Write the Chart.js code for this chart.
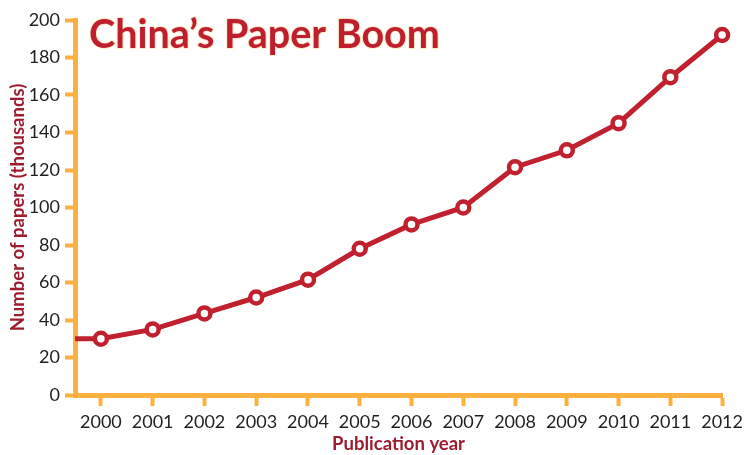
<!DOCTYPE html>
<html>
<head>
<meta charset="utf-8">
<script src="https://cdn.jsdelivr.net/npm/chart.js@4"></script>
<style>
  html, body { margin: 0; padding: 0; background: #ffffff; }
  #wrap { width: 748px; height: 455px; position: relative; }
</style>
</head>
<body>
<div id="wrap"><canvas id="paperChart"></canvas></div>
<script>
// Datos
var years = [2000, 2001, 2002, 2003, 2004, 2005, 2006, 2007, 2008, 2009, 2010, 2011, 2012];
var papers = [30, 35, 43.5, 52, 61.5, 78, 91, 100, 121.5, 130.5, 145, 169.5, 192];
var yTicks = [0, 20, 40, 60, 80, 100, 120, 140, 160, 180, 200];
var chartTitle = 'China\u2019s Paper Boom';
var xTitle = 'Publication year';
var yTitle = 'Number of papers (thousands)';

var xMin = 1999.5;
var orange = '#FBB040';
var red = '#C1202F';
var darkRed = '#9D1D2F';
var textColor = '#231F20';

// La linea empieza en el eje Y con el primer valor
var points = [{ x: xMin, y: papers[0] }];
years.forEach(function(year, i) {
  points.push({ x: year, y: papers[i] });
});

// Titulo dentro del area del grafico
var titlePlugin = {
  id: 'bigTitle',
  afterDraw: function(chart) {
    var ctx = chart.ctx;
    ctx.save();
    ctx.font = 'bold 39.5px Lato';
    ctx.textBaseline = 'alphabetic';
    ctx.textAlign = 'left';
    ctx.lineJoin = 'round';
    ctx.lineWidth = 2;
    ctx.strokeStyle = '#FDEBC8';
    ctx.strokeText(chartTitle, chart.chartArea.left + 14, 48);
    ctx.fillStyle = '#BF1E2E';
    ctx.fillText(chartTitle, chart.chartArea.left + 14, 48);
    ctx.restore();
  }
};

var ctx = document.getElementById('paperChart').getContext('2d');
var paperChart = new Chart(ctx, {
  type: 'line',
  data: {
    datasets: [{
      data: points,
      borderColor: red,
      borderWidth: 5,
      backgroundColor: '#ffffff',
      pointBackgroundColor: '#ffffff',
      pointBorderColor: red,
      pointBorderWidth: 4.5,
      pointRadius: function(c) { return c.dataIndex === 0 ? 0 : 6; },
      pointHoverRadius: function(c) { return c.dataIndex === 0 ? 0 : 6; },
      tension: 0,
      clip: false
    }]
  },
  options: {
    responsive: true,
    maintainAspectRatio: false,
    animation: false,
    devicePixelRatio: 1,
    layout: { padding: { top: 20, right: 23, bottom: 0, left: 0 } },
    plugins: {
      legend: { display: false },
      tooltip: { enabled: false }
    },
    scales: {
      x: {
        type: 'linear',
        min: xMin,
        max: years[years.length - 1],
        afterBuildTicks: function(axis) {
          axis.ticks = years.map(function(v) { return { value: v }; });
        },
        afterFit: function(axis) { axis.height = 60; },
        border: { color: orange, width: 5 },
        grid: {
          drawOnChartArea: false,
          drawTicks: true,
          tickLength: 11,
          tickColor: orange,
          tickWidth: 4
        },
        ticks: {
          color: textColor,
          font: { family: 'Lato', size: 18 },
          padding: 5,
          maxRotation: 0,
          callback: function(v) { return String(v); }
        },
        title: {
          display: true,
          text: xTitle,
          color: darkRed,
          font: { family: 'Lato', size: 18.5, weight: 'bold' },
          padding: { top: 0, bottom: 0 }
        }
      },
      y: {
        min: 0,
        max: 200,
        afterBuildTicks: function(axis) {
          axis.ticks = yTicks.map(function(v) { return { value: v }; });
        },
        afterFit: function(axis) { axis.width = 75; },
        border: { color: orange, width: 5 },
        grid: {
          drawOnChartArea: false,
          drawTicks: true,
          tickLength: 10,
          tickColor: orange,
          tickWidth: 4
        },
        ticks: {
          color: textColor,
          font: { family: 'Lato', size: 18 },
          padding: 5
        },
        title: {
          display: true,
          text: yTitle,
          color: darkRed,
          font: { family: 'Lato', size: 18.5, weight: 'bold' },
          padding: { top: 7, bottom: 0 }
        }
      }
    }
  },
  plugins: [titlePlugin]
});
</script>
</body>
</html>
